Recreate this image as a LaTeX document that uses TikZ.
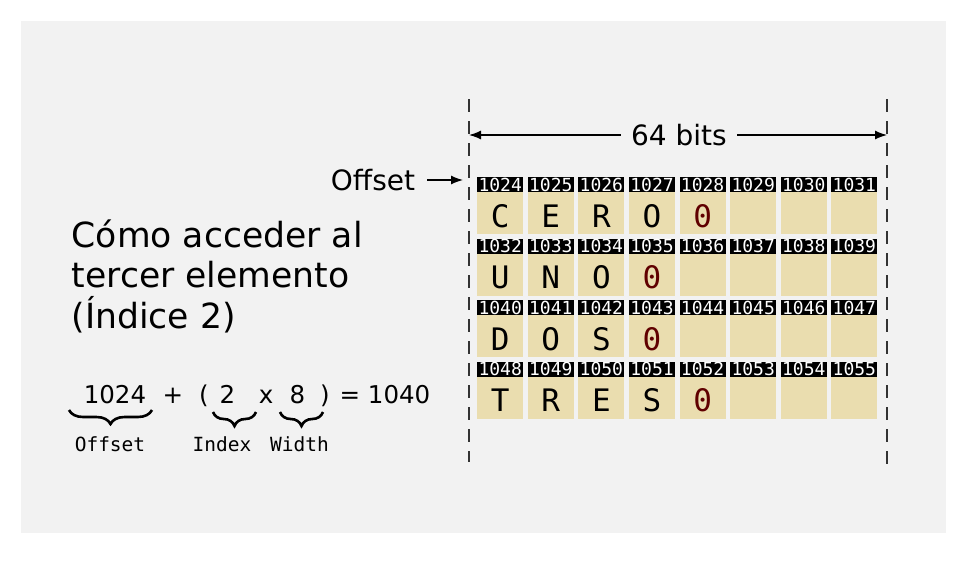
\documentclass[tikz,border=0pt]{standalone}
\usepackage{fontspec}
\setmainfont{DejaVu Sans}
\newfontfamily\cellfont{DejaVu Sans Mono}
\usetikzlibrary{calc,arrows.meta,decorations.pathreplacing}
\definecolor{bggray}{RGB}{242,242,242}
\definecolor{cellbeige}{RGB}{234,221,175}
\definecolor{nullred}{RGB}{96,0,0}
\newcommand{\cpitch}{50.6}
\newcommand{\rpitch}{61.5}

\begin{document}
\begin{tikzpicture}[x=1pt, y=-1pt,
    hdr/.style={fill=black, text=white, minimum width=46pt, minimum height=15pt,
        inner sep=0pt, anchor=north west, font={\cellfont\fontsize{18}{18}\selectfont}},
    cellbox/.style={fill=cellbeige, minimum width=46pt, minimum height=42pt,
        inner sep=0pt, anchor=north west},
    letter/.style={inner sep=0pt, text height=28.5pt, text depth=0pt,
        font={\cellfont\fontsize{31}{31}\selectfont}},
    nullzero/.style={text=nullred},
    arr/.style={line width=1.3pt, -{Latex[length=12pt, width=9pt]}},
    guide/.style={line width=1.3pt, black!80, dash pattern=on 13pt off 9pt},
    formula/.style={anchor=base, inner sep=0pt, font={\fontsize{24.5}{24.5}\selectfont}},
    tag/.style={anchor=base, inner sep=0pt, font={\cellfont\fontsize{19.5}{19.5}\selectfont}},
    heading/.style={anchor=base west, inner sep=0pt, font={\fontsize{34.6}{34.6}\selectfont}},
    curly/.style={line width=2.6pt, decorate, decoration={brace, amplitude=14pt}}
    ]

        \fill[white] (0, 0) rectangle (973, 563);
        \fill[bggray] (21, 21) rectangle (946, 533);

        \coordinate (ltop) at (469, 99);
        \coordinate (lbot) at (469, 462);
        \coordinate (rtop) at (887, 99);
        \coordinate (rbot) at (887, 470);
        \draw[guide] (ltop) -- (lbot);
        \draw[guide] (rtop) -- (rbot);

        \coordinate (lend) at (469, 135);
        \coordinate (rend) at (887, 135);
        \node[inner xsep=10pt, inner ysep=0pt, font={\fontsize{28}{28}\selectfont}] (bits) at (679, 135) {64 bits};
        \draw[arr] (bits) -- (lend);
        \draw[arr] (bits) -- (rend);

        \coordinate (offtip) at (463, 180);
        \node[inner xsep=12pt, inner ysep=0pt, font={\fontsize{28}{28}\selectfont}] (offlbl) at (373, 180) {Offset};
        \draw[arr] (offlbl) -- (offtip);

        \foreach \r in {0,...,3} {
            \foreach \c in {0,...,7} {
                \pgfmathtruncatemacro{\addr}{1024 + 8*\r + \c}
                \node[hdr] (h\addr) at ({477 + \cpitch*\c}, {177 + \rpitch*\r}) {\addr};
                \node[cellbox] (b\addr) at ({477 + \cpitch*\c}, {192 + \rpitch*\r}) {};
            }
        }

        \foreach \addr/\ch in {1024/C, 1025/E, 1026/R, 1027/O,
                               1032/U, 1033/N, 1034/O,
                               1040/D, 1041/O, 1042/S,
                               1048/T, 1049/R, 1050/E, 1051/S}
            \node[letter] (l\addr) at (b\addr) {\ch};

        \foreach \addr in {1028, 1035, 1043, 1052}
            \node[letter, nullzero] (z\addr) at (b\addr) {0};

        \node[heading] (line1) at (71.5, 247) {Cómo acceder al};
        \node[heading] (line2) at (71.5, 287.5) {tercer elemento};
        \node[heading] (line3) at (71.5, 328) {(Índice 2)};

        \node[formula] (base) at (115, 403) {1024};
        \node[formula] (plus) at (173, 403) {+};
        \node[formula] (lpar) at (204, 403) {(};
        \node[formula] (idx) at (227.5, 403) {2};
        \node[formula] (times) at (266, 403) {x};
        \node[formula] (wid) at (297.5, 403) {8};
        \node[formula] (rpar) at (325, 403) {)};
        \node[formula] (res) at (385, 403) {= 1040};

        \draw[curly] (152, 410) -- (69, 410);
        \draw[curly] (256, 412) -- (213, 412);
        \draw[curly] (323, 412) -- (280, 412);

        \node[tag] (offtag) at (110, 451) {Offset};
        \node[tag] (idxtag) at (222, 451) {Index};
        \node[tag] (widtag) at (299.5, 451) {Width};

\end{tikzpicture}
\end{document}
